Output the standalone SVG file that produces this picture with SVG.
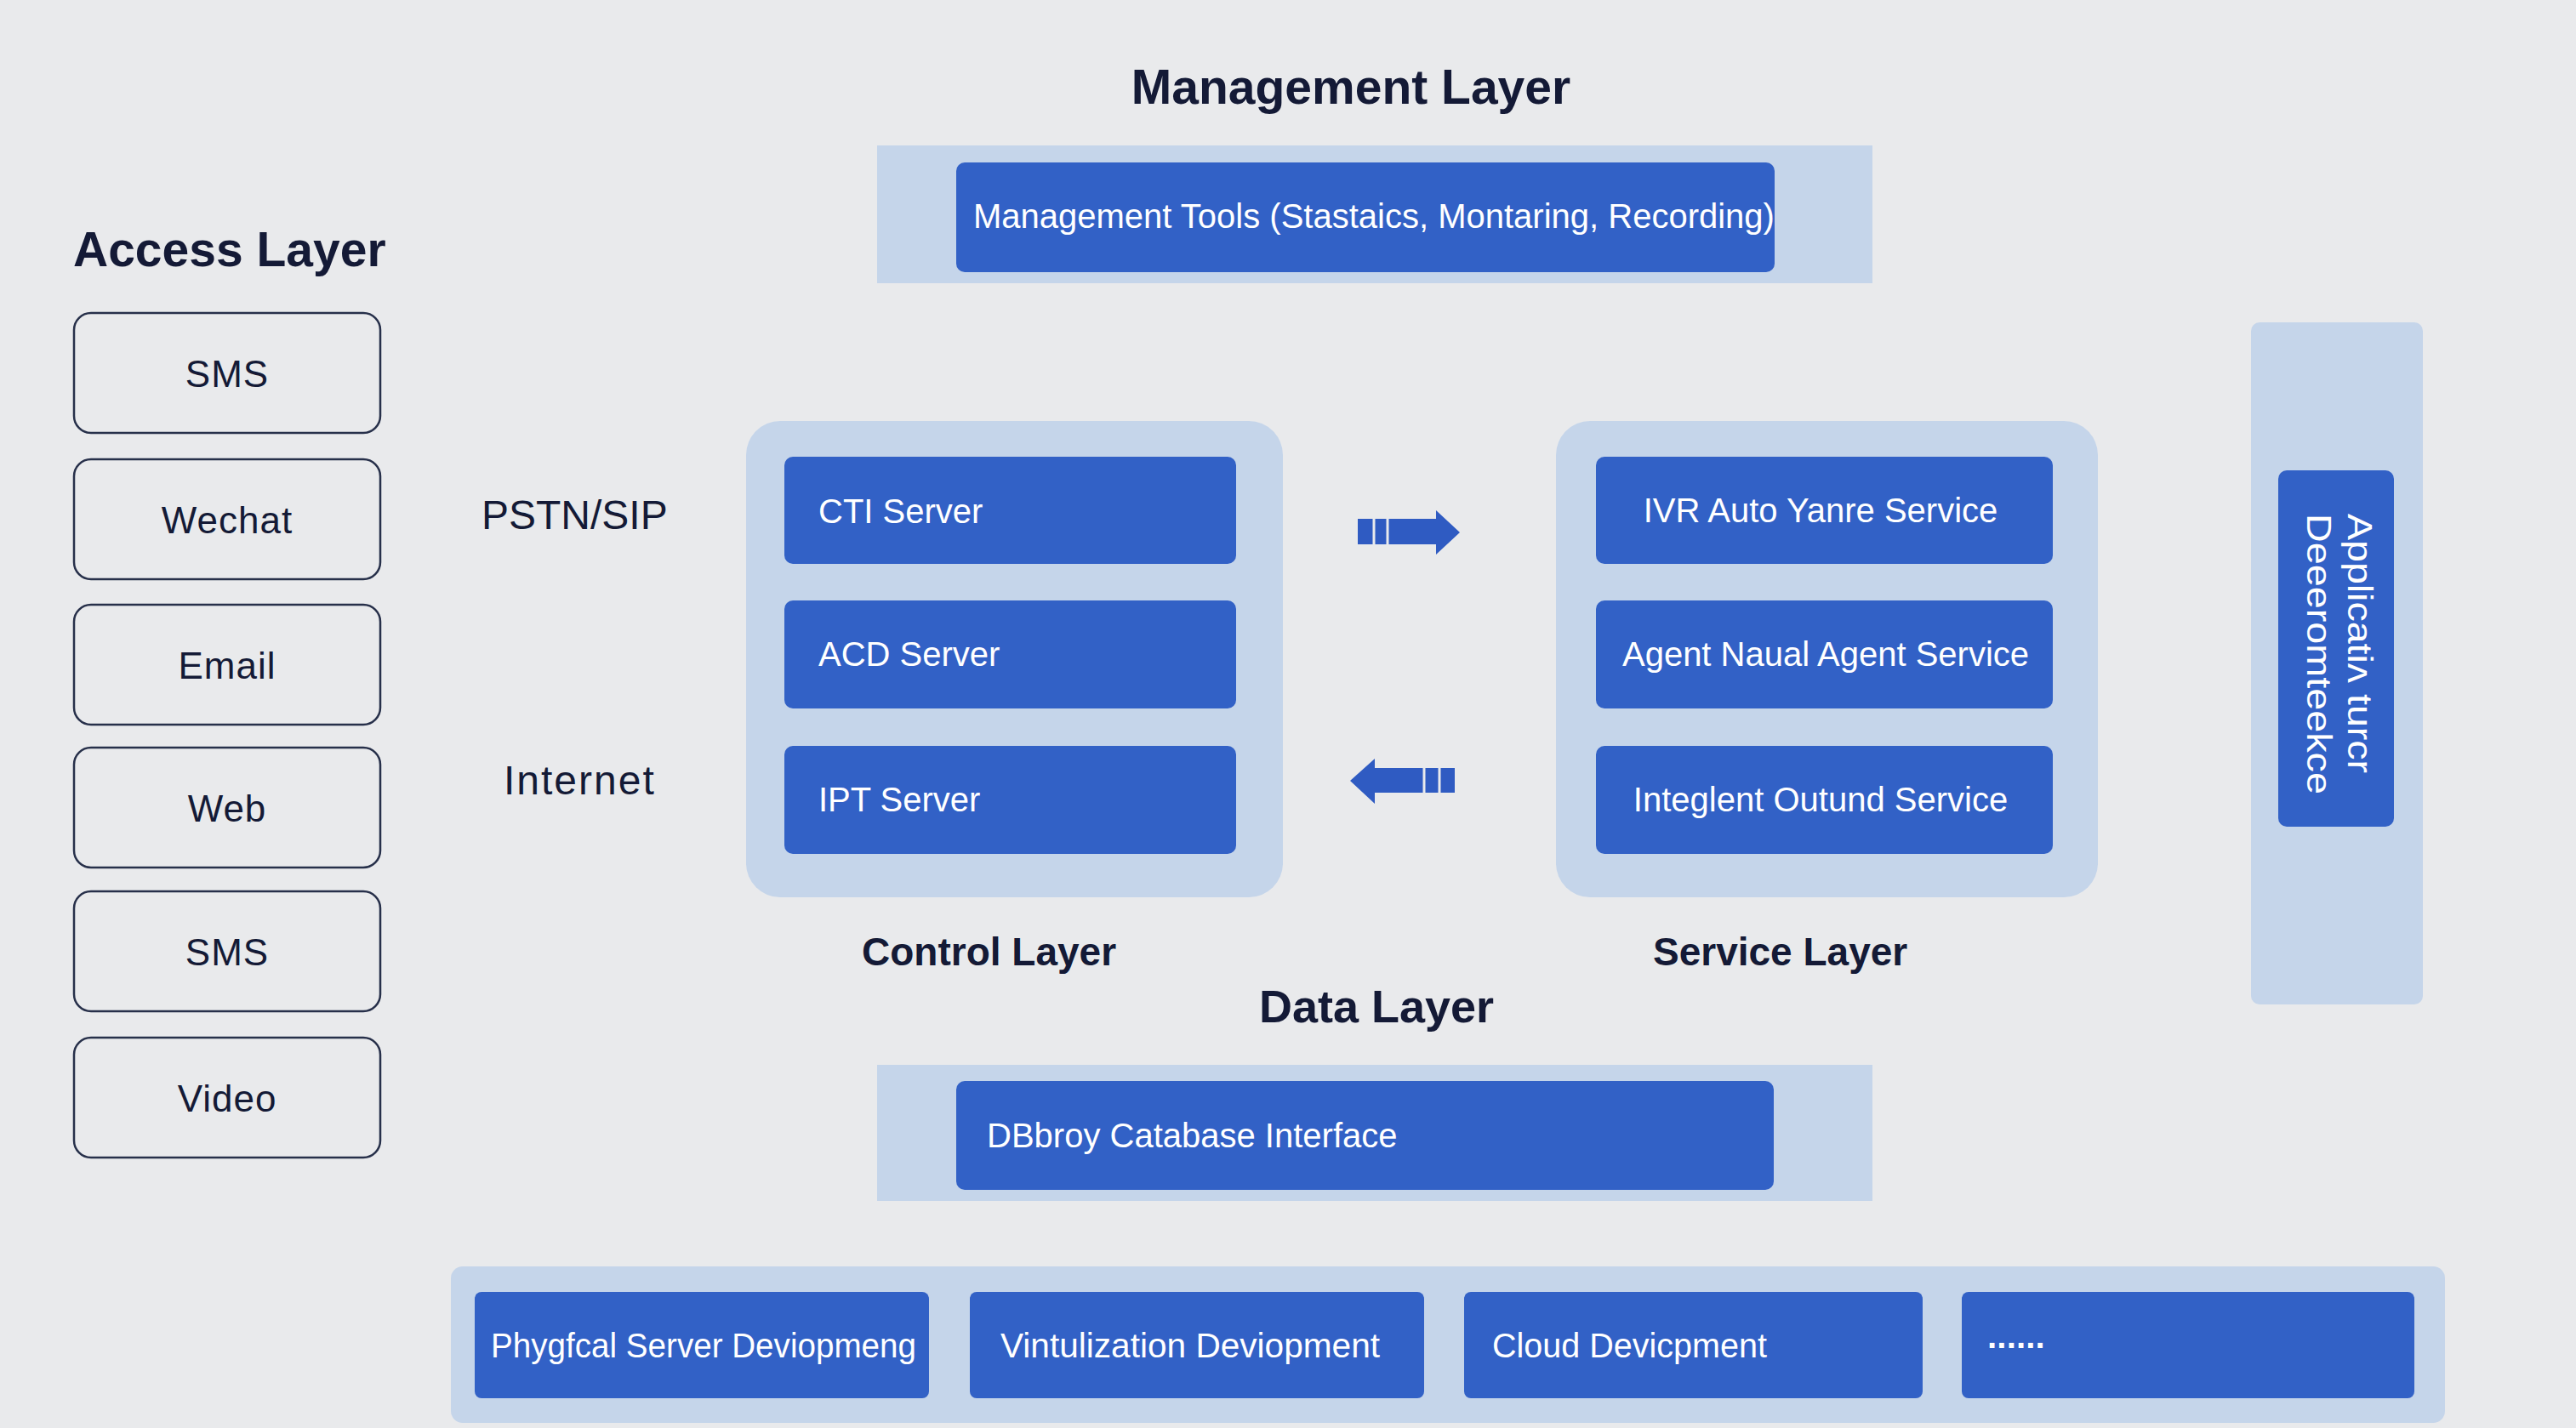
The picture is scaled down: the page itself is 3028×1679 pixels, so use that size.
<svg xmlns="http://www.w3.org/2000/svg" width="3028" height="1679" viewBox="0 0 3028 1679">
  <defs>
    <style>
      .bg { fill: #E9EAEC; }
      .panel { fill: #C5D5EA; }
      .box { fill: #3261C6; }
      .chan { fill: none; stroke: #27304A; stroke-width: 2.5; }
      .title { font-family: "Liberation Sans", Arial, sans-serif; font-weight: bold; fill: #141A36; }
      .sub { font-family: "Liberation Sans", Arial, sans-serif; font-weight: bold; font-size: 46px; fill: #141A36; }
      .plain { font-family: "Liberation Sans", Arial, sans-serif; font-size: 48px; fill: #141A36; }
      .chanText { font-family: "Liberation Sans", Arial, sans-serif; font-size: 44px; letter-spacing: 1px; fill: #141A36; text-anchor: middle; }
      .lbl { font-family: "Liberation Sans", Arial, sans-serif; font-size: 40px; fill: #FFFFFF; }
      .arrow { fill: #2F5BC2; }
      .stripe { stroke: #E9EAEC; stroke-width: 3; }
    </style>
  </defs>

  <rect class="bg" x="0" y="0" width="3028" height="1679"/>

  <!-- Access layer -->
  <text class="title" x="86" y="313" font-size="57">Access Layer</text>
  <g id="access-sms"><rect class="chan" x="87" y="368" width="360" height="141" rx="20"/><text class="chanText" x="267" y="455">SMS</text></g>
  <g id="access-wechat"><rect class="chan" x="87" y="540" width="360" height="141" rx="20"/><text class="chanText" x="267" y="627">Wechat</text></g>
  <g id="access-email"><rect class="chan" x="87" y="711" width="360" height="141" rx="20"/><text class="chanText" x="267" y="798">Email</text></g>
  <g id="access-web"><rect class="chan" x="87" y="879" width="360" height="141" rx="20"/><text class="chanText" x="267" y="966">Web</text></g>
  <g id="access-sms2"><rect class="chan" x="87" y="1048" width="360" height="141" rx="20"/><text class="chanText" x="267" y="1135">SMS</text></g>
  <g id="access-video"><rect class="chan" x="87" y="1220" width="360" height="141" rx="20"/><text class="chanText" x="267" y="1307">Video</text></g>

  <g id="net-pstn"><text class="plain" x="566" y="622">PSTN/SIP</text></g>
  <g id="net-internet"><text class="plain" x="592" y="934" letter-spacing="2">Internet</text></g>

  <!-- Management layer -->
  <text class="title" x="1588" y="122" font-size="57" text-anchor="middle">Management Layer</text>
  <g id="management">
    <rect class="panel" x="1031" y="171" width="1170" height="162"/>
    <rect class="box" x="1124" y="191" width="962" height="129" rx="10"/>
    <text class="lbl" x="1144" y="268">Management Tools (Stastaics, Montaring, Recording)</text>
  </g>

  <!-- Control layer -->
  <g id="control-layer">
    <rect class="panel" x="877" y="495" width="631" height="560" rx="40"/>
    <text class="sub" x="1013" y="1135">Control Layer</text>
  </g>
  <g id="cti"><rect class="box" x="922" y="537" width="531" height="126" rx="10"/><text class="lbl" x="962" y="615">CTI Server</text></g>
  <g id="acd"><rect class="box" x="922" y="706" width="531" height="127" rx="10"/><text class="lbl" x="962" y="783">ACD Server</text></g>
  <g id="ipt"><rect class="box" x="922" y="877" width="531" height="127" rx="10"/><text class="lbl" x="962" y="954">IPT Server</text></g>

  <!-- Service layer -->
  <g id="service-layer">
    <rect class="panel" x="1829" y="495" width="637" height="560" rx="40"/>
    <text class="sub" x="1943" y="1135">Service Layer</text>
  </g>
  <g id="ivr"><rect class="box" x="1876" y="537" width="537" height="126" rx="10"/><text class="lbl" x="2140" y="614" text-anchor="middle">IVR Auto Yanre Service</text></g>
  <g id="agent"><rect class="box" x="1876" y="706" width="537" height="127" rx="10"/><text class="lbl" x="2146" y="783" text-anchor="middle">Agent Naual Agent Service</text></g>
  <g id="outbound"><rect class="box" x="1876" y="877" width="537" height="127" rx="10"/><text class="lbl" x="2140" y="954" text-anchor="middle">Integlent Outund Service</text></g>

  <!-- Application side panel -->
  <g id="application">
    <rect class="panel" x="2646" y="379" width="202" height="802" rx="10"/>
    <rect class="box" x="2678" y="553" width="136" height="419" rx="10"/>
    <text class="lbl" font-size="36" transform="translate(2760,604) rotate(90)" textLength="305" lengthAdjust="spacingAndGlyphs">Applicatiʌ turcr</text>
    <text class="lbl" font-size="36" transform="translate(2712,604) rotate(90)" textLength="330" lengthAdjust="spacingAndGlyphs">Deeeromteekce</text>
  </g>

  <!-- Data layer -->
  <text class="title" x="1618" y="1202" font-size="54" text-anchor="middle">Data Layer</text>
  <g id="data">
    <rect class="panel" x="1031" y="1252" width="1170" height="160"/>
    <rect class="box" x="1124" y="1271" width="961" height="128" rx="10"/>
    <text class="lbl" x="1160" y="1349" font-size="44">DBbroy Catabase Interface</text>
  </g>

  <!-- Deployment row -->
  <g id="deployment">
    <rect class="panel" x="530" y="1489" width="2344" height="184" rx="14"/>
  </g>
  <g id="deploy-physical"><rect class="box" x="558" y="1519" width="534" height="125" rx="8"/><text class="lbl" x="577" y="1596" font-size="38" textLength="500" lengthAdjust="spacingAndGlyphs">Phygfcal Server Deviopmeng</text></g>
  <g id="deploy-virtual"><rect class="box" x="1140" y="1519" width="534" height="125" rx="8"/><text class="lbl" x="1176" y="1596" font-size="38" textLength="446" lengthAdjust="spacingAndGlyphs">Vintulization Deviopment</text></g>
  <g id="deploy-cloud"><rect class="box" x="1721" y="1519" width="539" height="125" rx="8"/><text class="lbl" x="1754" y="1596" font-size="38" textLength="323" lengthAdjust="spacingAndGlyphs">Cloud Devicpment</text></g>
  <g id="deploy-more"><rect class="box" x="2306" y="1519" width="532" height="125" rx="8"/><text class="lbl" x="2336" y="1596" font-size="44" font-weight="bold" letter-spacing="-2">······</text></g>

  <!-- Connectors -->
  <g id="connectors">
    <g id="arrow-to-service">
      <polygon class="arrow" points="1596,610 1688,610 1688,600 1716,626 1688,652 1688,640 1596,640"/>
      <line class="stripe" x1="1615" y1="608" x2="1615" y2="642"/>
      <line class="stripe" x1="1631" y1="608" x2="1631" y2="642"/>
    </g>
    <g id="arrow-to-control">
      <polygon class="arrow" points="1710,903 1616,903 1616,892 1587,918 1616,945 1616,932 1710,932"/>
      <line class="stripe" x1="1674" y1="901" x2="1674" y2="934"/>
      <line class="stripe" x1="1692" y1="901" x2="1692" y2="934"/>
    </g>
  </g>
</svg>
